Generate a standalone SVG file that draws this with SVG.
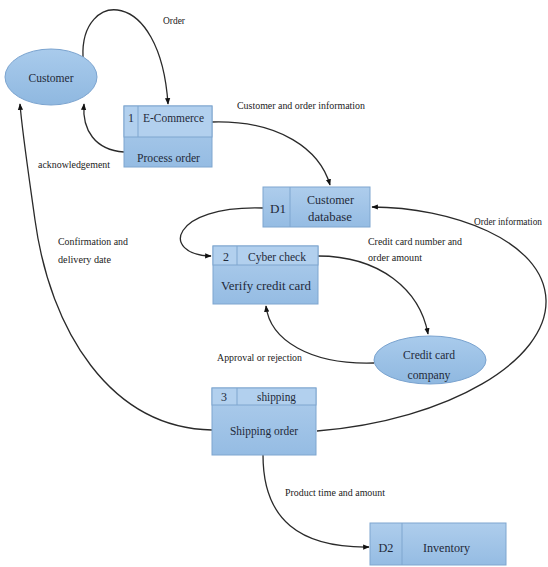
<svg xmlns="http://www.w3.org/2000/svg" width="548" height="567" viewBox="0 0 548 567">
<style>
.box{fill:url(#bg);stroke:#7ea6cf;stroke-width:1}
.hdr{fill:#b2d0ee;stroke:#7ea6cf;stroke-width:1}
.div{stroke:#7ea6cf;stroke-width:1;fill:none}
.ell{fill:url(#eg);stroke:#7aa3cf;stroke-width:1}
.t{font-size:12px;fill:#1f2a3a}
.l{font-size:11px;fill:#222}
.c{fill:none;stroke:#2a2a2a;stroke-width:1.3}
</style>
<defs>
<linearGradient id="bg" x1="0" y1="0" x2="0" y2="1"><stop offset="0" stop-color="#aecdec"/><stop offset="1" stop-color="#95bce3"/></linearGradient>
<linearGradient id="eg" x1="0" y1="0" x2="0" y2="1"><stop offset="0" stop-color="#a9cbec"/><stop offset="1" stop-color="#8fb8e0"/></linearGradient>
<marker id="ar" viewBox="0 0 10 10" refX="9" refY="5" markerWidth="5" markerHeight="5" orient="auto"><path d="M0,1 L10,5 L0,9 z" fill="#111"/></marker>
</defs>
<rect width="548" height="567" fill="#fff"/>

<g id="connectors">
<path class="c" d="M83,57 C80,-10 160,-15 168,104" marker-end="url(#ar)"/>
<path class="c" d="M124,152 C95,150 82,130 84,104" marker-end="url(#ar)"/>
<path class="c" d="M212,122 C280,120 320,150 330,185" marker-end="url(#ar)"/>
<path class="c" d="M263,208 C170,205 160,255 211,256" marker-end="url(#ar)"/>
<path class="c" d="M318,256 C380,256 420,290 428,334" marker-end="url(#ar)"/>
<path class="c" d="M374,363 C310,365 270,340 266,306" marker-end="url(#ar)"/>
<path class="c" d="M317,431 C450,420 548,360 546,300 C544,240 450,207 372,207" marker-end="url(#ar)"/>
<path class="c" d="M212,430 C110,428 50,330 35,220 C28,170 22,130 20,104" marker-end="url(#ar)"/>
<path class="c" d="M263,455 C263,520 300,548 369,547" marker-end="url(#ar)"/>
</g>

<g id="labels" font-family="Liberation Serif, Times New Roman, serif">
<text class="l" x="163" y="24" textLength="22" lengthAdjust="spacingAndGlyphs">Order</text>
<text class="l" x="237" y="109" textLength="128" lengthAdjust="spacingAndGlyphs">Customer and order information</text>
<text class="l" x="38" y="168" textLength="72" lengthAdjust="spacingAndGlyphs">acknowledgement</text>
<text class="l" x="58" y="245" textLength="70" lengthAdjust="spacingAndGlyphs">Confirmation and</text>
<text class="l" x="58" y="263" textLength="53" lengthAdjust="spacingAndGlyphs">delivery date</text>
<text class="l" x="368" y="245" textLength="94" lengthAdjust="spacingAndGlyphs">Credit card number and</text>
<text class="l" x="368" y="261" textLength="54" lengthAdjust="spacingAndGlyphs">order amount</text>
<text class="l" x="474" y="225" font-size="10" textLength="68" lengthAdjust="spacingAndGlyphs" style="font-size:10px">Order information</text>
<text class="l" x="217" y="361" textLength="85" lengthAdjust="spacingAndGlyphs">Approval or rejection</text>
<text class="l" x="285" y="496" textLength="100" lengthAdjust="spacingAndGlyphs">Product time and amount</text>
</g>

<g id="customer" font-family="Liberation Serif, Times New Roman, serif">
<ellipse class="ell" cx="51" cy="77" rx="46" ry="28"/>
<text class="t" x="51" y="82" text-anchor="middle" textLength="45" lengthAdjust="spacingAndGlyphs">Customer</text>
</g>

<g id="ecommerce" font-family="Liberation Serif, Times New Roman, serif">
<rect class="box" x="124" y="106" width="88" height="61"/>
<rect class="hdr" x="124" y="106" width="88" height="31"/>
<line class="div" x1="138" y1="106" x2="138" y2="137"/>
<text class="t" x="131" y="122" text-anchor="middle">1</text>
<text class="t" x="143" y="122" textLength="61" lengthAdjust="spacingAndGlyphs">E-Commerce</text>
<text class="t" x="137" y="162" textLength="63" lengthAdjust="spacingAndGlyphs">Process order</text>
</g>

<g id="d1" font-family="Liberation Serif, Times New Roman, serif">
<rect class="box" x="263" y="187" width="107" height="40"/>
<line class="div" x1="290" y1="187" x2="290" y2="227"/>
<text class="t" x="278" y="213" text-anchor="middle" textLength="16" lengthAdjust="spacingAndGlyphs">D1</text>
<text class="t" x="307" y="204" textLength="47" lengthAdjust="spacingAndGlyphs">Customer</text>
<text class="t" x="308" y="221" textLength="44" lengthAdjust="spacingAndGlyphs">database</text>
</g>

<g id="cybercheck" font-family="Liberation Serif, Times New Roman, serif">
<rect class="box" x="213" y="246" width="105" height="58"/>
<rect class="hdr" x="213" y="246" width="105" height="19"/>
<line class="div" x1="237" y1="246" x2="237" y2="265"/>
<text class="t" x="226" y="261" text-anchor="middle">2</text>
<text class="t" x="248" y="261" textLength="58" lengthAdjust="spacingAndGlyphs">Cyber check</text>
<text class="t" x="221" y="290" textLength="90" lengthAdjust="spacingAndGlyphs">Verify credit card</text>
</g>

<g id="creditcard" font-family="Liberation Serif, Times New Roman, serif">
<ellipse class="ell" cx="430" cy="360" rx="56" ry="24"/>
<text class="t" x="429" y="359" text-anchor="middle" textLength="52" lengthAdjust="spacingAndGlyphs">Credit card</text>
<text class="t" x="429" y="379" text-anchor="middle" textLength="43" lengthAdjust="spacingAndGlyphs">company</text>
</g>

<g id="shipping" font-family="Liberation Serif, Times New Roman, serif">
<rect class="box" x="212" y="388" width="104" height="67"/>
<rect class="hdr" x="212" y="388" width="104" height="17"/>
<line class="div" x1="237" y1="388" x2="237" y2="405"/>
<text class="t" x="224" y="401" text-anchor="middle">3</text>
<text class="t" x="257" y="401" textLength="39" lengthAdjust="spacingAndGlyphs">shipping</text>
<text class="t" x="230" y="435" textLength="68" lengthAdjust="spacingAndGlyphs">Shipping order</text>
</g>

<g id="d2" font-family="Liberation Serif, Times New Roman, serif">
<rect class="box" x="370" y="523" width="136" height="42"/>
<line class="div" x1="402" y1="523" x2="402" y2="565"/>
<text class="t" x="386" y="552" text-anchor="middle" textLength="15" lengthAdjust="spacingAndGlyphs">D2</text>
<text class="t" x="423" y="552" textLength="47" lengthAdjust="spacingAndGlyphs">Inventory</text>
</g>
</svg>
